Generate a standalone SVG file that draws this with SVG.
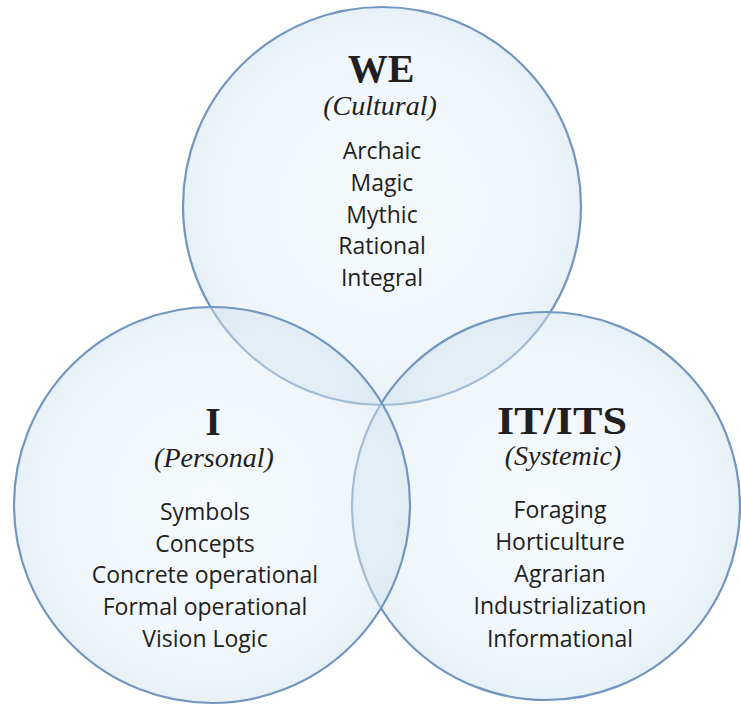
<svg xmlns="http://www.w3.org/2000/svg" width="741" height="708" viewBox="0 0 741 708">
  <style>
    .ring { stroke: #7396c0; stroke-width: 2.2; fill: url(#disc); }
    .head { font-family: "Liberation Serif", "DejaVu Serif", serif; font-weight: bold; font-size: 40px; fill: #231f20; text-anchor: middle; }
    .sub { font-family: "Liberation Serif", "DejaVu Serif", serif; font-style: italic; font-size: 28px; fill: #231f20; text-anchor: middle; }
    .item { font-family: "Open Sans", "Lato", sans-serif; font-size: 23px; fill: #231f20; text-anchor: middle; }
  </style>
  <defs>
    <radialGradient id="disc" cx="50%" cy="50%" r="50%">
      <stop offset="0" stop-color="#e8f2f8" stop-opacity="0.45"/>
      <stop offset="0.85" stop-color="#dbeaf3" stop-opacity="0.45"/>
      <stop offset="1" stop-color="#cfe2ee" stop-opacity="0.5"/>
    </radialGradient>
  </defs>
  <rect width="741" height="708" fill="#ffffff"/>

  <!-- WE: cultural quadrant -->
  <g id="we">
    <circle class="ring" cx="382" cy="206" r="199"/>
  </g>
  <!-- IT/ITS: systemic quadrant -->
  <g id="itits">
    <circle class="ring" cx="546" cy="506" r="194"/>
  </g>
  <!-- I: personal quadrant -->
  <g id="i">
    <circle class="ring" cx="212" cy="505" r="198"/>
  </g>

  <g id="labels-we">
    <text class="head" x="381" y="82">WE</text>
    <text class="sub" x="380" y="115">(Cultural)</text>
    <text class="item" x="382" y="159">Archaic</text>
    <text class="item" x="382" y="191">Magic</text>
    <text class="item" x="382" y="223">Mythic</text>
    <text class="item" x="382" y="254">Rational</text>
    <text class="item" x="382" y="286">Integral</text>
  </g>
  <g id="labels-i">
    <text class="head" x="213" y="435">I</text>
    <text class="sub" x="214" y="467">(Personal)</text>
    <text class="item" x="205" y="520">Symbols</text>
    <text class="item" x="205" y="552">Concepts</text>
    <text class="item" x="205" y="583">Concrete operational</text>
    <text class="item" x="205" y="615">Formal operational</text>
    <text class="item" x="205" y="647">Vision Logic</text>
  </g>
  <g id="labels-itits">
    <text class="head" x="562" y="434" textLength="130" lengthAdjust="spacingAndGlyphs">IT/ITS</text>
    <text class="sub" x="563" y="465">(Systemic)</text>
    <text class="item" x="560" y="518">Foraging</text>
    <text class="item" x="560" y="550">Horticulture</text>
    <text class="item" x="560" y="582">Agrarian</text>
    <text class="item" x="560" y="614">Industrialization</text>
    <text class="item" x="560" y="647">Informational</text>
  </g>
</svg>
